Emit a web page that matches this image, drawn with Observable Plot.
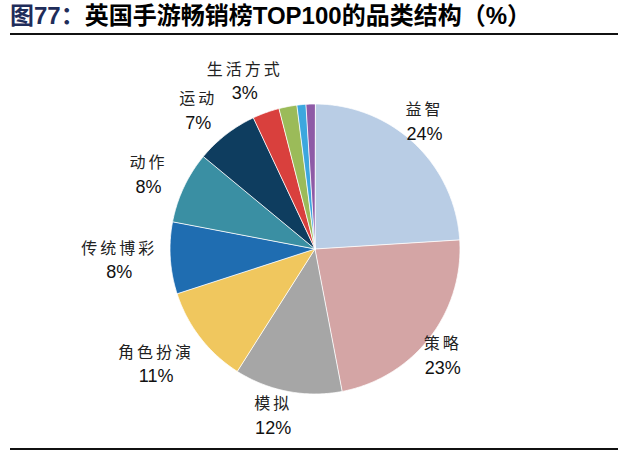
<!DOCTYPE html>
<html><head><meta charset="utf-8">
<script src="https://cdn.jsdelivr.net/npm/d3@7"></script>
<script src="https://cdn.jsdelivr.net/npm/@observablehq/plot@0.6"></script>
<style>
body{margin:0;background:#fff;}
#wrap{position:relative;width:640px;height:457px;overflow:hidden;background:#fff;}
#title{position:absolute;left:10px;top:2px;font:bold 24px "Liberation Sans","Noto Sans CJK SC",sans-serif;white-space:nowrap;color:#000;line-height:28px;}
#title .fig{color:#1f2d5a;}
.rule{position:absolute;left:10px;width:608px;height:2px;background:#111;}
#chart{position:absolute;left:0;top:40px;}
</style></head><body>
<div id="wrap">
<div id="title"><span class="fig">图77：</span>英国手游畅销榜TOP100的品类结构（%）</div>
<div class="rule" style="top:33px"></div>
<div id="chart"></div>
<div class="rule" style="top:448px"></div>
</div>
<script>
const categories = ["益智","策略","模拟","角色扮演","传统博彩","动作","运动","生活方式","其他A","其他B","其他C"];
const values = [24,23,12,11,8,8,7,3,2,1,1];
const labelShown = [true,true,true,true,true,true,true,true,false,false,false];
const colors = ["#b9cde5","#d4a5a5","#a6a6a6","#f0c75e","#1f6db1","#3a8fa3","#0e3d5f","#d9403d","#9bbb59","#3ca7de","#8e5aa6"];

const W = 640, H = 405, cx = 314.5, cy = 208.5, R = 145;
const arcs = d3.pie().sort(null).value(d => d)(values);

// slice outlines in unit-radius coordinates (y up)
const rows = [];
arcs.forEach((a, i) => {
  const cat = categories[i];
  rows.push({cat, x: 0, y: 0});
  const n = Math.max(2, Math.ceil((a.endAngle - a.startAngle) / (Math.PI / 360)));
  for (let k = 0; k <= n; k++) {
    const t = a.startAngle + (a.endAngle - a.startAngle) * k / n;
    rows.push({cat, x: Math.sin(t), y: Math.cos(t)});
  }
});

// label anchors placed outside each slice, from mid-angle
const labels = [];
arcs.forEach((a, i) => {
  if (!labelShown[i]) return;
  const m = (a.startAngle + a.endAngle) / 2;
  const s = Math.sin(m), c = Math.cos(m);
  const w = Math.max(categories[i].length * 18, 36), h = 36;
  const d = R + 4 + Math.abs(s) * w / 2 + Math.abs(c) * h / 2;
  labels.push({name: categories[i], pct: values[i] + "%", x: s * d / R, y: c * d / R});
});

const chart = Plot.plot({
  width: W, height: H, margin: 0,
  x: {domain: [-cx / R, (W - cx) / R], range: [0, W], axis: null},
  y: {domain: [-(H - cy) / R, cy / R], range: [H, 0], axis: null},
  color: {domain: categories, range: colors},
  style: {background: "#fff", fontFamily: "'Liberation Sans','Noto Sans CJK SC',sans-serif"},
  marks: [
    Plot.line(rows, {x: "x", y: "y", z: "cat", fill: "cat", stroke: "#ffffff", strokeWidth: 0.8, curve: "linear-closed"}),
    Plot.text(labels, {x: "x", y: "y", text: "name", dx: -10, dy: -12, fontSize: 16, fill: "#222", fontFamily: "'Noto Sans CJK SC',sans-serif"}),
    Plot.text(labels, {x: "x", y: "y", text: "pct", dx: -10, dy: 12, fontSize: 18, fill: "#111", fontFamily: "'Liberation Sans',Arial,sans-serif"})
  ]
});
document.getElementById("chart").appendChild(chart);
const tg = chart.querySelectorAll('g[aria-label="text"]');
if (tg[0]) tg[0].setAttribute("letter-spacing", "3");
</script>
</body></html>
